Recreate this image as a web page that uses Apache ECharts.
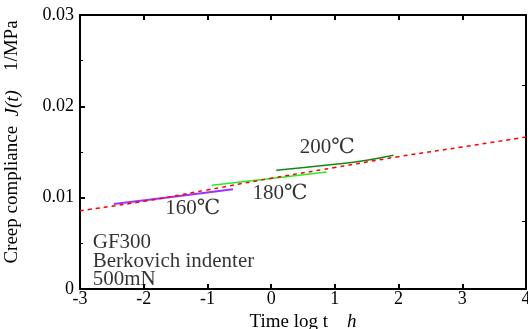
<!DOCTYPE html>
<html><head><meta charset="utf-8">
<script src="https://cdn.jsdelivr.net/npm/echarts@6/dist/echarts.min.js"></script>
<style>html,body{margin:0;padding:0;background:#fff}#c{width:528px;height:329px}</style>
</head><body><div id="c"></div>
<script>
var FONT = '"Liberation Serif","DejaVu Serif","Times New Roman",serif';
// Master curve (red dashed): [log t, J]
var masterX = [-3, -2, -1, 0, 1, 2, 3, 4];
var masterJ = [0.00857, 0.00960, 0.01085, 0.01212, 0.01330, 0.01449, 0.01555, 0.01664];
// 160 C
var t160X = [-2.47, -1.5, -0.60];
var t160J = [0.00931, 0.01012, 0.01092];
// 180 C
var t180X = [-0.93, 0, 0.87];
var t180J = [0.01135, 0.01210, 0.01281];
// 200 C
var t200X = [0.08, 1.0, 1.5, 1.92];
var t200J = [0.01300, 0.01365, 0.01410, 0.01464];
var xTicks = [-3, -2, -1, 0, 1, 2, 3, 4];
var yTicks = [0, 0.01, 0.02, 0.03];
var labels = [
  {name: '200℃', x: 0.88, y: 0.01544},
  {name: '180℃', x: 0.14, y: 0.0105},
  {name: '160℃', x: -1.23, y: 0.00887}
];
var note = {text: 'GF300\nBerkovich indenter\n500mN', x: -2.8, y: 0.0061};

function zip(a, b) { return a.map(function (v, i) { return [v, b[i]]; }); }

var chart = echarts.init(document.getElementById('c'));
chart.setOption({
  animation: false,
  grid: {left: 80, right: 2, top: 15, bottom: 40, show: false, containLabel: false, outerBoundsMode: 'none'},
  xAxis: [{
    type: 'value', min: -3, max: 4, interval: 1,
    axisLine: {show: true, onZero: false, lineStyle: {color: '#000', width: 2}},
    axisTick: {show: true, inside: true, length: 5, lineStyle: {color: '#000', width: 2}},
    splitLine: {show: false},
    axisLabel: {color: '#000', fontFamily: FONT, fontSize: 18, margin: 1},
    name: '{a|Time log t    }{b|h}', nameLocation: 'middle', nameGap: 21,
    nameTextStyle: {rich: {
      a: {fontFamily: FONT, fontSize: 19, color: '#000'},
      b: {fontFamily: FONT, fontSize: 19, color: '#000', fontStyle: 'italic'}
    }}
  }, {
    type: 'value', min: -3, max: 4, interval: 1, position: 'top',
    axisLine: {show: true, onZero: false, lineStyle: {color: '#000', width: 2}},
    axisTick: {show: true, inside: true, length: 5, lineStyle: {color: '#000', width: 2}},
    axisLabel: {show: false}, splitLine: {show: false}
  }],
  yAxis: [{
    type: 'value', min: 0, max: 0.03, interval: 0.01,
    axisLine: {show: true, onZero: false, lineStyle: {color: '#000', width: 2}},
    axisTick: {show: true, inside: true, length: 5, lineStyle: {color: '#000', width: 2}},
    minorTick: {show: true, splitNumber: 2, length: 3, lineStyle: {color: '#000', width: 1}},
    splitLine: {show: false},
    axisLabel: {color: '#000', fontFamily: FONT, fontSize: 18, margin: 6,
      formatter: function (v) { return String(+v.toFixed(2)); }},
    name: '{a|Creep compliance  }{b|J(t)}{a|    1/MPa}', nameLocation: 'middle', nameGap: 58,
    nameTextStyle: {padding: [0, 0, 0, 20], rich: {
      a: {fontFamily: FONT, fontSize: 19, color: '#000'},
      b: {fontFamily: FONT, fontSize: 19, color: '#000', fontStyle: 'italic'}
    }}
  }, {
    type: 'value', min: 0, max: 0.03, position: 'right',
    axisLine: {show: true, onZero: false, lineStyle: {color: '#000', width: 2}},
    axisTick: {show: true, inside: true, length: 4, customValues: [0.0074, 0.0223], lineStyle: {color: '#000', width: 1}},
    axisLabel: {show: false}, splitLine: {show: false}
  }],
  series: [{
    type: 'line', data: zip(masterX, masterJ), symbol: 'none', smooth: true,
    lineStyle: {color: '#ff0000', width: 1.5, type: [4, 4]}, z: 5
  }, {
    type: 'line', data: zip(t160X, t160J), symbol: 'none', smooth: true,
    lineStyle: {color: '#9933ff', width: 2}, z: 3
  }, {
    type: 'line', data: zip(t180X, t180J), symbol: 'none', smooth: true,
    lineStyle: {color: '#22ee22', width: 1.5}, z: 3
  }, {
    type: 'line', data: zip(t200X, t200J), symbol: 'none', smooth: true,
    lineStyle: {color: '#118811', width: 1.5}, z: 3
  }, {
    type: 'scatter', symbolSize: 0, silent: true,
    data: labels.map(function (l) { return {name: l.name, value: [l.x, l.y]}; }),
    label: {show: true, position: 'inside', formatter: '{b}', color: '#000', fontFamily: FONT, fontSize: 21}
  }, {
    type: 'scatter', symbolSize: 0, silent: true,
    data: [{name: note.text, value: [note.x, note.y]}],
    label: {show: true, position: 'right', distance: 0, align: 'left', verticalAlign: 'top',
      formatter: '{b}', color: '#000', fontFamily: FONT, fontSize: 21, lineHeight: 18.5}
  }]
});
</script></body></html>
